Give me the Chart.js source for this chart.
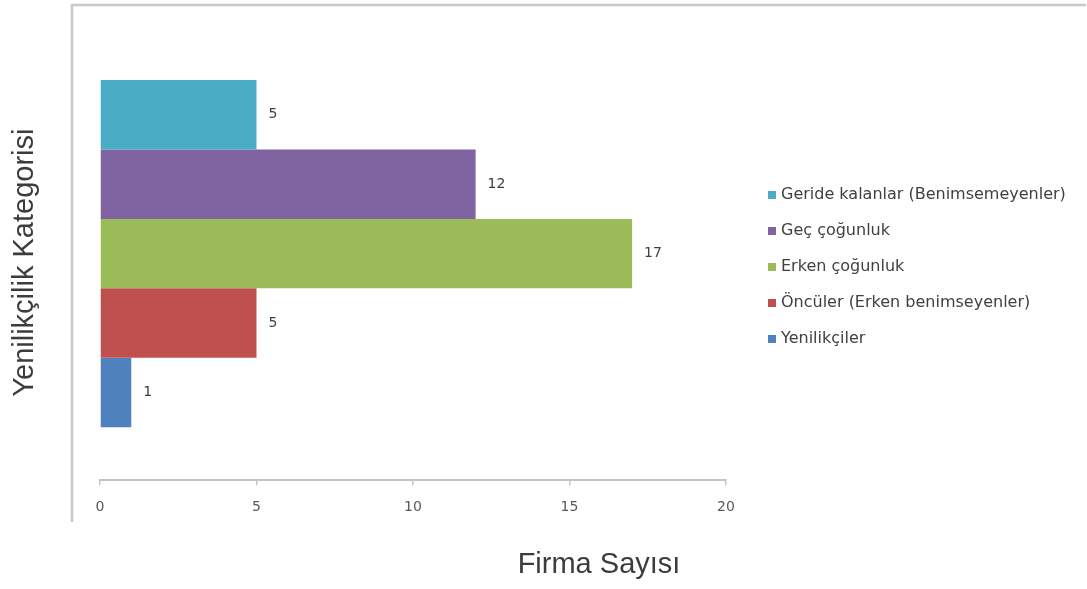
<!DOCTYPE html>
<html lang="tr">
<head>
<meta charset="utf-8">
<title>Yenilikçilik Kategorisi</title>
<script src="https://cdn.jsdelivr.net/npm/chart.js@4/dist/chart.umd.min.js"></script>
<style>
    html, body { margin: 0; padding: 0; background: #ffffff; }
    #kategori { display: block; }
</style>
</head>
<body>
<canvas id="kategori" width="1087" height="589"></canvas>
<script>
// Kategoriler (üstten alta) ve firma sayıları
const categories = [
    'Geride kalanlar (Benimsemeyenler)',
    'Geç çoğunluk',
    'Erken çoğunluk',
    'Öncüler (Erken benimseyenler)',
    'Yenilikçiler'
];
const firmCounts = [5, 12, 17, 5, 1];
const barColors = ['#4bacc6', '#8064a2', '#9bbb59', '#c0504d', '#4f81bd'];
const xTicks = [0, 5, 10, 15, 20];

const xTitle = 'Firma Sayısı';
const yTitle = 'Yenilikçilik Kategorisi';

const smallFont = '14px "DejaVu Sans", sans-serif';
const titleFont = '29px "Liberation Sans", Arial, sans-serif';

// Grafik çerçevesi (üst ve sol kenar)
const frame = {
    id: 'frame',
    beforeDraw(chart) {
        const ctx = chart.ctx;
        ctx.save();
        ctx.strokeStyle = '#c8c8c8';
        ctx.lineWidth = 2.5;
        ctx.beginPath();
        ctx.moveTo(72, 522);
        ctx.lineTo(72, 5);
        ctx.lineTo(chart.width - 1, 5);
        ctx.stroke();
        ctx.restore();
    }
};

// Çubukların yanındaki değer etiketleri
const valueLabels = {
    id: 'valueLabels',
    afterDatasetsDraw(chart) {
        const ctx = chart.ctx;
        ctx.save();
        ctx.font = smallFont;
        ctx.fillStyle = '#404040';
        ctx.textBaseline = 'middle';
        chart.data.datasets.forEach((ds, i) => {
            chart.getDatasetMeta(i).data.forEach((bar, j) => {
                ctx.fillText(String(ds.data[j]), bar.x + 12, bar.y);
            });
        });
        ctx.restore();
    }
};

// Sağdaki açıklama listesi ve eksen başlıkları
const sideText = {
    id: 'sideText',
    afterDraw(chart) {
        const ctx = chart.ctx;
        const area = chart.chartArea;
        ctx.save();

        ctx.font = '16px "DejaVu Sans", sans-serif';
        ctx.textBaseline = 'middle';
        chart.data.datasets.forEach((ds, i) => {
            const y = 195 + i * 36;
            ctx.fillStyle = ds.backgroundColor;
            ctx.fillRect(768, y - 4, 8, 8);
            ctx.fillStyle = '#404040';
            ctx.fillText(ds.label, 781, y);
        });

        ctx.font = titleFont;
        ctx.fillStyle = '#3c3c3c';
        ctx.textAlign = 'center';
        ctx.fillText(xTitle, 599, 565);

        ctx.translate(25, (area.top + area.bottom) / 2 + 9);
        ctx.rotate(-Math.PI / 2);
        ctx.fillText(yTitle, 0, 0);
        ctx.restore();
    }
};

const ctx = document.getElementById('kategori').getContext('2d');

new Chart(ctx, {
    type: 'bar',
    data: {
        labels: [''],
        datasets: categories.map((name, i) => ({
            label: name,
            data: [firmCounts[i]],
            backgroundColor: barColors[i],
            borderWidth: 0,
            categoryPercentage: 0.766,
            barPercentage: 1
        }))
    },
    options: {
        indexAxis: 'y',
        responsive: false,
        animation: false,
        layout: {
            padding: { left: 100, right: 361, top: 27, bottom: 59 }
        },
        plugins: {
            legend: { display: false },
            tooltip: { enabled: false }
        },
        scales: {
            y: {
                display: false
            },
            x: {
                min: 0,
                max: 20,
                afterBuildTicks: scale => {
                    scale.ticks = xTicks.map(v => ({ value: v }));
                },
                border: { color: '#c4c4c4', width: 2 },
                grid: {
                    drawOnChartArea: false,
                    drawTicks: true,
                    tickLength: 5,
                    color: '#c4c4c4',
                    lineWidth: 1.5
                },
                ticks: {
                    padding: 14,
                    color: '#595959',
                    font: { family: '"DejaVu Sans", sans-serif', size: 14 }
                }
            }
        }
    },
    plugins: [frame, valueLabels, sideText]
});
</script>
</body>
</html>
